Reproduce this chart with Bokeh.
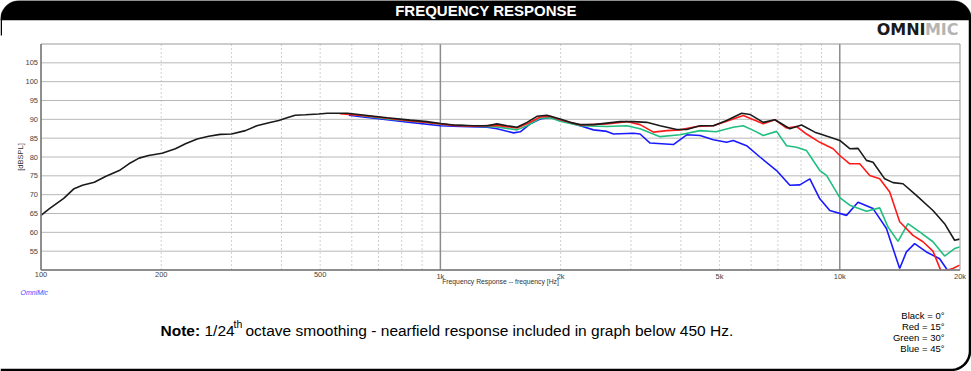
import math
from bokeh.plotting import figure
from bokeh.models import Range1d, LogScale
from bokeh.core.properties import value
from bokeh.embed import file_html
from bokeh.resources import INLINE

# ---------------- data ----------------
freq_black = [100, 105, 114, 121, 127, 136, 145, 157, 166, 176, 186, 201, 217, 230, 246, 263, 281, 300,
              325, 347, 372, 394, 413, 433, 459, 496, 521, 585, 656, 736, 841, 926, 1000, 1080, 1211,
              1309, 1386, 1469, 1555, 1648, 1745, 1848, 1995, 2113, 2239, 2417, 2611, 2818, 3043, 3287,
              3548, 3906, 4138, 4467, 4824, 5209, 5679, 5957, 6432, 6879, 7499, 8022, 8660, 9300,
              10000, 10593, 11111, 11663, 12115, 12957, 13593, 14398, 15551, 17113, 18302, 19385, 19953]
spl_black = [64.5, 66.3, 69.0, 71.6, 72.5, 73.3, 74.8, 76.4, 78.2, 79.7, 80.4, 81.0, 82.2, 83.5, 84.8,
             85.5, 86.0, 86.1, 87.0, 88.3, 89.1, 89.7, 90.4, 91.1, 91.2, 91.4, 91.6, 91.6, 91.0, 90.4,
             89.8, 89.4, 88.9, 88.5, 88.3, 88.3, 88.8, 88.3, 87.9, 89.2, 90.8, 91.1, 90.1, 89.2, 88.6,
             88.6, 89.0, 89.4, 89.4, 89.2, 88.3, 87.3, 87.3, 88.3, 88.3, 89.7, 91.6, 91.3, 89.2, 89.9,
             87.5, 88.5, 86.6, 85.5, 84.4, 82.2, 82.3, 79.1, 78.6, 74.2, 73.2, 72.9, 69.8, 65.8, 62.3,
             57.9, 58.2]

freq_red = [560, 656, 736, 841, 926, 1000, 1080, 1211, 1386, 1555, 1648, 1778, 1884, 1995, 2239, 2611,
            2930, 3162, 3415, 3689, 3981, 4384, 4824, 5209, 5731, 6432, 6879, 7358, 7794, 8256, 8913,
            9624, 10000, 10593, 11220, 11885, 12589, 13335, 14125, 15251, 16155, 17113, 17960, 19196, 19953]
spl_red = [91.5, 90.9, 90.3, 89.6, 89.2, 88.8, 88.4, 88.2, 88.4, 87.7, 88.8, 90.6, 90.8, 89.9, 88.5, 88.8,
           89.4, 88.6, 86.6, 87.0, 87.2, 88.1, 88.3, 89.5, 91.0, 88.8, 89.9, 87.7, 88.1, 86.1, 83.9,
           82.2, 80.4, 78.2, 78.2, 75.1, 74.2, 70.7, 62.8, 59.2, 57.5, 55.0, 49.5, 50.4, 51.3]

freq_green = [600, 736, 926, 1000, 1080, 1211, 1386, 1555, 1648, 1778, 1884, 1995, 2239, 2611, 2930, 3162,
              3548, 3981, 4467, 4900, 5410, 5731, 6150, 6432, 6947, 7358, 7794, 8256, 8913, 9265, 10000,
              10593, 11663, 12589, 13207, 13990, 14818, 15849, 17113, 18302, 19385, 19953]
spl_green = [91.3, 90.1, 89.1, 88.7, 88.5, 88.2, 88.0, 87.2, 88.3, 90.3, 90.4, 89.5, 88.3, 88.1, 88.3, 87.5,
             85.4, 85.9, 87.0, 86.7, 87.9, 88.3, 86.8, 85.7, 86.8, 83.0, 82.6, 81.7, 76.4, 75.1, 69.2,
             67.2, 65.6, 66.5, 61.4, 57.6, 62.3, 60.1, 57.5, 53.7, 55.7, 56.1]

freq_blue = [590, 656, 736, 841, 1000, 1122, 1309, 1386, 1525, 1585, 1679, 1778, 1884, 1995, 2239, 2417,
             2611, 2713, 3043, 3162, 3350, 3831, 4138, 4467, 4824, 5209, 5410, 5844, 6310, 6947, 7499,
             7943, 8414, 8913, 9441, 10394, 11111, 12115, 13086, 13593, 14125, 14683, 15399, 16474,
             17783, 18484, 19500]
spl_blue = [91.1, 90.5, 89.9, 89.2, 88.3, 88.1, 87.9, 87.5, 86.4, 86.7, 88.8, 90.1, 90.5, 89.9, 88.3, 87.2,
            86.8, 86.1, 86.3, 86.1, 83.7, 83.3, 85.9, 85.7, 84.6, 83.9, 84.4, 83.0, 80.0, 76.4, 72.5,
            72.6, 74.2, 68.9, 65.8, 64.5, 68.0, 66.3, 61.0, 55.7, 50.4, 54.8, 57.0, 54.8, 53.0, 50.4, 47.0]

f_min, f_max = 100, 20000
db_min, db_max = 50, 110
x_ticks = [100, 200, 500, 1000, 2000, 5000, 10000, 20000]
x_tick_labels = ["100", "200", "500", "1k", "2k", "5k", "10k", "20k"]
x_grid_minor = [200, 300, 400, 500, 600, 700, 800, 900, 2000, 3000, 4000, 5000, 6000, 7000, 8000, 9000]
x_grid_major = [1000, 10000]
y_ticks = [55, 60, 65, 70, 75, 80, 85, 90, 95, 100, 105]
y_tick_labels = [str(v) for v in y_ticks]

title_text = "FREQUENCY RESPONSE"
x_axis_label = "Frequency Response -- frequency [Hz]"
y_axis_label = "[dBSPL]"
legend_lines = ["Black = 0\u00b0", "Red = 15\u00b0", "Green = 30\u00b0", "Blue = 45\u00b0"]
note_bold = "Note:"
note_a = "1/24"
note_sup = "th"
note_b = " octave smoothing - nearfield response included in graph below 450 Hz."

# ---------------- layout (canvas pixels) ----------------
W, H = 971, 371
X0, X1 = 40.5, 959.5      # plot area left / right
Y0, Y1 = 43.5, 269.5      # plot area top / bottom
FONT = value("Liberation Sans")

# ranges so that the log-frequency / dB scales map onto the plot area
L = math.log10(f_max / f_min)
dec_px = (X1 - X0) / L
f_lo = f_min * 10 ** (-X0 / dec_px)
f_hi = f_max * 10 ** ((W - X1) / dec_px)
db_px = (Y1 - Y0) / (db_max - db_min)
db_lo = db_min - (H - Y1) / db_px
db_hi = db_max + Y0 / db_px

p = figure(width=W, height=H, x_range=Range1d(0, W), y_range=Range1d(H, 0),
           x_axis_location=None, y_axis_location=None,
           output_backend="svg", toolbar_location=None,
           min_border_left=0, min_border_right=0, min_border_top=0, min_border_bottom=0)
p.grid.visible = False
p.outline_line_color = None
p.background_fill_color = "white"
p.border_fill_color = "white"
p.extra_x_ranges = {"f": Range1d(f_lo, f_hi)}
p.extra_x_scales = {"f": LogScale()}
p.extra_y_ranges = {"db": Range1d(db_lo, db_hi)}
FD = dict(x_range_name="f", y_range_name="db")

# grid
p.segment(x0=x_grid_minor, x1=x_grid_minor, y0=[db_min] * len(x_grid_minor), y1=[db_max] * len(x_grid_minor),
          line_color="#d0d0d0", line_width=1, line_dash="2 2", **FD)
p.segment(x0=[f_min] * len(y_ticks), x1=[f_max] * len(y_ticks), y0=y_ticks, y1=y_ticks,
          line_color="#b8b8b8", line_width=1, **FD)
p.segment(x0=x_grid_major, x1=x_grid_major, y0=[db_min] * 2, y1=[db_max] * 2,
          line_color="#8c8c8c", line_width=1.5, **FD)

# curves
p.line(freq_blue, spl_blue, line_color="#1a1aff", line_width=1.6, **FD)
p.line(freq_green, spl_green, line_color="#1fbf80", line_width=1.6, **FD)
p.line(freq_red, spl_red, line_color="#ff1a1a", line_width=1.6, **FD)
p.line(freq_black, spl_black, line_color="#1a1a1a", line_width=1.6, **FD)

# hide anything below the plot area
p.quad(left=[0], right=[W], top=[Y1 + 0.5], bottom=[H], fill_color="white", line_color=None)

# plot frame
p.quad(left=[f_min], right=[f_max], bottom=[db_min], top=[db_max], fill_color=None,
       line_color="#9a9a9a", line_width=1, **FD)
p.segment(x0=[f_min, f_min], x1=[f_min, f_max], y0=[db_min, db_min], y1=[db_max, db_min],
          line_color="#7a7a7a", line_width=1.5, **FD)

# tick labels
p.text(x=x_ticks, y=[db_min] * len(x_ticks), text=x_tick_labels, y_offset=1.5,
       text_font=FONT, text_font_size="7.5px", text_color="#444444",
       text_align="center", text_baseline="top", **FD)
p.text(x=[f_min] * len(y_ticks), y=y_ticks, text=y_tick_labels, x_offset=-3,
       text_font=FONT, text_font_size="7.5px", text_color="#444444",
       text_align="right", text_baseline="middle", **FD)
p.text(x=[math.sqrt(f_min * f_max)], y=[db_min], text=[x_axis_label], y_offset=8,
       text_font=FONT, text_font_size="6.8px", text_color="#333333",
       text_align="center", text_baseline="top", **FD)
p.text(x=[20], y=[(Y0 + Y1) / 2], text=[y_axis_label], angle=math.pi / 2,
       text_font=FONT, text_font_size="7.5px", text_color="#333333",
       text_align="center", text_baseline="middle")


# ---------------- decorations ----------------
def arc(xc, yc, r, a0, a1, n=12):
    return ([xc + r * math.cos(math.radians(a0 + (a1 - a0) * i / n)) for i in range(n + 1)],
            [yc + r * math.sin(math.radians(a0 + (a1 - a0) * i / n)) for i in range(n + 1)])


R = 19
bar_h = 19.5
ax1, ay1 = arc(R, R, R, 180, 270)
ax2, ay2 = arc(W - R, R, R, 270, 360)
p.patch(x=[0] + ax1 + ax2 + [W, 0], y=[bar_h] + ay1 + ay2 + [bar_h, bar_h],
        fill_color="black", line_color="black", line_width=0.5)

# outer frame (right and bottom edges visible, rounded bottom-right corner)
RX, BY = 969.5, 369.5
bx, by = arc(RX - R, BY - R, R, 90, 0)
p.line(x=[0] + bx + [RX], y=[BY] + by + [bar_h - 2], line_color="black", line_width=2.5)
p.line(x=[0.75, 0.75], y=[bar_h - 1, 35], line_color="black", line_width=1.5)

p.text(x=[W / 2], y=[bar_h / 2 + 0.5], text=[title_text], text_color="white",
       text_font=FONT, text_font_style="bold", text_font_size="15px",
       text_align="center", text_baseline="middle")

# logo
LOGO = value("DejaVu Sans")
p.text(x=[958], y=[28.5], text=["MIC"], text_color="#b4b4b4", text_font=LOGO,
       text_font_style="bold", text_font_size="16px", text_align="right", text_baseline="middle")
p.text(x=[958 - 33], y=[28.5], text=["OMNI"], text_color="#1a1a1a", text_font=LOGO,
       text_font_style="bold", text_font_size="16px", text_align="right", text_baseline="middle")

p.text(x=[20], y=[292], text=["OmniMic"], text_color="#4a4aff", text_font=FONT,
       text_font_style="italic", text_font_size="7px", text_align="left", text_baseline="middle")

# note line
base = 330
p.text(x=[160], y=[base], text=[note_bold], text_color="black", text_font=FONT,
       text_font_style="bold", text_font_size="15.5px", text_align="left", text_baseline="alphabetic")
p.text(x=[204], y=[base], text=[note_a], text_color="black", text_font=FONT,
       text_font_size="15.5px", text_align="left", text_baseline="alphabetic")
p.text(x=[233], y=[base - 7], text=[note_sup], text_color="black", text_font=FONT,
       text_font_size="10.5px", text_align="left", text_baseline="alphabetic")
p.text(x=[245], y=[base], text=[note_b], text_color="black", text_font=FONT,
       text_font_size="15.5px", text_align="left", text_baseline="alphabetic")

# legend text
p.text(x=[944] * 4, y=[315 + 11 * i for i in range(4)], text=legend_lines,
       text_color="black", text_font=FONT, text_font_size="9.5px",
       text_align="right", text_baseline="middle")

open("out.html", "w").write(file_html(p, INLINE))
